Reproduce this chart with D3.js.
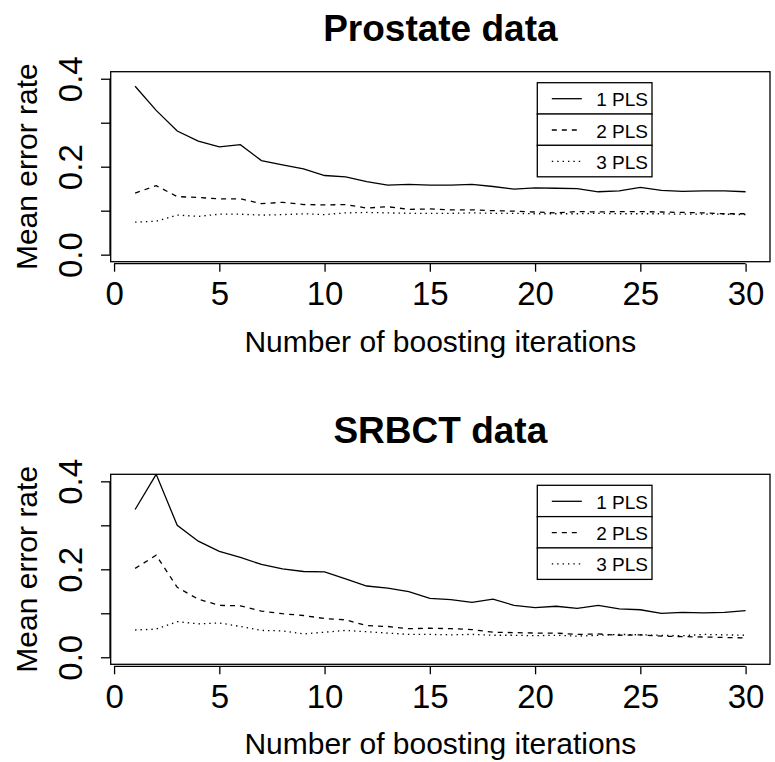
<!DOCTYPE html>
<html>
<head>
<meta charset="utf-8">
<script src="https://cdn.jsdelivr.net/npm/d3@7"></script>
<style>
  html, body { margin: 0; padding: 0; background: #fff; }
  svg { display: block; }
  text { font-family: "Liberation Sans", Arial, Helvetica, sans-serif; fill: #000; }
</style>
</head>
<body>
<svg id="chart" width="775" height="762"></svg>
<script>
// ---------------- data ----------------
const iterations = d3.range(1, 31);
const xTickValues = [0, 5, 10, 15, 20, 25, 30];
const yTickValues = [0.0, 0.1, 0.2, 0.3, 0.4];
const yTickLabels = ["0.0", "", "0.2", "", "0.4"];
const legendLabels = ["1 PLS", "2 PLS", "3 PLS"];
const panelTitles = ["Prostate data", "SRBCT data"];
const xLabel = "Number of boosting iterations";
const yLabel = "Mean error rate";

const prostate1 = [0.383,0.328,0.281,0.258,0.245,0.250,0.214,0.204,0.195,0.180,0.177,0.166,0.158,0.160,0.158,0.158,0.160,0.155,0.149,0.152,0.151,0.150,0.143,0.145,0.153,0.146,0.144,0.145,0.145,0.143];
const prostate2 = [0.140,0.157,0.132,0.130,0.127,0.127,0.116,0.119,0.114,0.113,0.114,0.106,0.109,0.103,0.104,0.102,0.102,0.100,0.099,0.097,0.095,0.098,0.097,0.098,0.098,0.097,0.096,0.095,0.093,0.093];
const prostate3 = [0.074,0.076,0.090,0.087,0.092,0.092,0.090,0.091,0.093,0.091,0.095,0.096,0.095,0.094,0.094,0.094,0.095,0.094,0.094,0.093,0.093,0.093,0.094,0.093,0.093,0.093,0.092,0.092,0.092,0.091];

const srbct1 = [0.336,0.416,0.300,0.264,0.241,0.227,0.211,0.201,0.195,0.194,0.178,0.162,0.157,0.149,0.134,0.131,0.125,0.132,0.118,0.113,0.116,0.111,0.118,0.110,0.108,0.100,0.102,0.101,0.102,0.106];
const srbct2 = [0.202,0.232,0.159,0.132,0.118,0.117,0.105,0.099,0.095,0.088,0.085,0.072,0.070,0.065,0.066,0.065,0.063,0.057,0.056,0.055,0.055,0.052,0.053,0.050,0.051,0.048,0.047,0.046,0.045,0.044];
const srbct3 = [0.062,0.064,0.081,0.076,0.078,0.070,0.061,0.060,0.053,0.057,0.061,0.058,0.055,0.052,0.052,0.051,0.052,0.050,0.050,0.049,0.050,0.048,0.050,0.052,0.051,0.050,0.049,0.052,0.051,0.050];

// ---------------- styles ----------------
const dashes = [null, "5,5", "1.4,4"];
const svg = d3.select("#chart");

function drawPanel(top, title, seriesList) {
  const left = 110.7, right = 770, bottom = top + 190;
  const x = d3.scaleLinear().domain([-0.16, 31.16]).range([left, right]);
  const y = d3.scaleLinear().domain([-0.016, 0.416]).range([bottom, top]);
  const g = svg.append("g");

  // title
  g.append("text").attr("x", (left + right) / 2).attr("y", top - 31)
    .attr("text-anchor", "middle").style("font-size", "37px").style("font-weight", "bold")
    .text(title);

  // series (clipped to plot box)
  const clipId = "clip" + Math.round(top);
  svg.append("clipPath").attr("id", clipId).append("rect")
    .attr("x", left).attr("y", top).attr("width", right - left).attr("height", bottom - top);
  const line = d3.line().x((d, i) => x(iterations[i])).y(d => y(d));
  seriesList.forEach((s, k) => {
    g.append("path").datum(s).attr("d", line)
      .attr("clip-path", `url(#${clipId})`)
      .attr("fill", "none").attr("stroke", "#000").attr("stroke-width", 1.3)
      .attr("stroke-dasharray", dashes[k]);
  });

  // box
  g.append("rect").attr("x", left).attr("y", top).attr("width", right - left).attr("height", bottom - top)
    .attr("fill", "none").attr("stroke", "#000").attr("stroke-width", 1.3);

  // x axis
  const axOff = 2;
  const xa = g.append("g").attr("transform", `translate(0,${bottom + axOff})`)
    .call(d3.axisBottom(x).tickValues(xTickValues).tickSize(8).tickSizeOuter(0).tickFormat(d3.format("d")));
  xa.select(".domain").remove();
  xa.append("line").attr("x1", x(xTickValues[0])).attr("x2", x(xTickValues[xTickValues.length - 1]))
    .attr("y1", 0).attr("y2", 0).attr("stroke", "#000").attr("stroke-width", 1.3);
  xa.selectAll(".tick line").attr("stroke", "#000").attr("stroke-width", 1.3);
  xa.selectAll(".tick text").attr("y", 43.5 - axOff).attr("dy", 0)
    .style("font-size", "33px").style("font-family", '"Liberation Sans", Arial, sans-serif').attr("fill", "#000");

  // y axis
  const ya = g.append("g").attr("transform", `translate(${left - 0.7},0)`)
    .call(d3.axisLeft(y).tickValues(yTickValues).tickSize(9).tickSizeOuter(0)
      .tickFormat((d, i) => yTickLabels[i]));
  ya.select(".domain").remove();
  ya.append("line").attr("y1", y(yTickValues[0])).attr("y2", y(yTickValues[yTickValues.length - 1]))
    .attr("x1", 0).attr("x2", 0).attr("stroke", "#000").attr("stroke-width", 1.3);
  ya.selectAll(".tick line").attr("stroke", "#000").attr("stroke-width", 1.3);
  ya.selectAll(".tick text").attr("transform", "rotate(-90)").attr("x", 0).attr("y", -28).attr("dy", 0)
    .attr("text-anchor", "middle")
    .style("font-size", "33px").style("font-family", '"Liberation Sans", Arial, sans-serif').attr("fill", "#000");

  // axis labels
  g.append("text").attr("x", (left + right) / 2).attr("y", bottom + 90)
    .attr("text-anchor", "middle").style("font-size", "30px").text(xLabel);
  g.append("text").attr("transform", `translate(37,${(top + bottom) / 2}) rotate(-90)`)
    .attr("text-anchor", "middle").style("font-size", "30px").text(yLabel);

  // legend: three stacked boxes
  const lx = 537.3, lw = 114.7, lh = 31.5;
  legendLabels.forEach((lab, k) => {
    const ly = top + 11 + k * (lh - 0.2);
    g.append("rect").attr("x", lx).attr("y", ly).attr("width", lw).attr("height", lh)
      .attr("fill", "#fff").attr("stroke", "#000").attr("stroke-width", 1.3);
    g.append("line").attr("x1", lx + 14.5).attr("x2", lx + 44.5)
      .attr("y1", ly + 16).attr("y2", ly + 16)
      .attr("stroke", "#000").attr("stroke-width", 1.3).attr("stroke-dasharray", dashes[k]);
    g.append("text").attr("x", lx + lw - 4).attr("y", ly + 23.5)
      .attr("text-anchor", "end").style("font-size", "19px").text(lab);
  });
}

drawPanel(71.7, panelTitles[0], [prostate1, prostate2, prostate3]);
drawPanel(474.3, panelTitles[1], [srbct1, srbct2, srbct3]);
</script>
</body>
</html>
